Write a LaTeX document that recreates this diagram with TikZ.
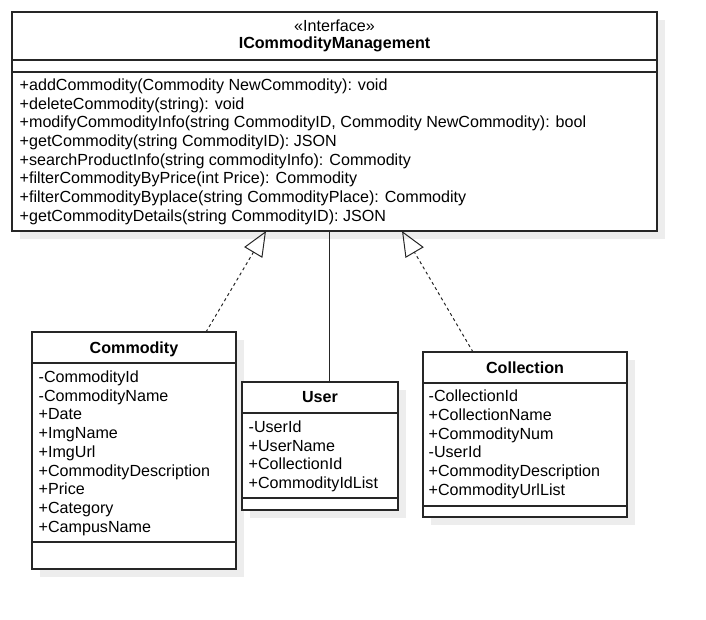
\documentclass[tikz,border=0pt]{standalone}
\usepackage{fontspec}
\setmainfont{Liberation Sans}
\usetikzlibrary{arrows.meta,shadows}
\begin{document}
\begin{tikzpicture}[x=1pt,y=-1pt,
  box/.style={draw=black!85, line width=1.1pt, fill=white, anchor=north west, inner sep=0pt, outer sep=0pt,
    drop shadow={shadow xshift=8pt, shadow yshift=-8pt, fill=black!7, opacity=1}},
  sep/.style={draw=black!85, line width=1.1pt},
  txt/.style={anchor=base west, inner sep=0pt, font=\fontsize{16.1}{18.8}\selectfont},
  ctr/.style={anchor=base, inner sep=0pt, font=\fontsize{16.1}{18.8}\selectfont},
  ttl/.style={anchor=base, inner sep=0pt, font=\fontsize{16.1}{18.8}\selectfont\bfseries},
  real/.style={draw=black!85, line width=1pt, dash pattern=on 3pt off 3pt,
    -{Triangle[open, length=25pt, width=21pt, line width=1pt]}}
]
\useasboundingbox (0,0) rectangle (706,620);

% Interface
\node[box, minimum width=645pt, minimum height=219pt] (iface) at (12,12) {};
\draw[sep, line width=1.6pt] (12,60) -- (657,60);
\draw[sep] (12,72) -- (657,72);
\node[ctr] (ifst) at (334.5,31.5) {«Interface»};
\node[ttl] (ifname) at (334.5,49) {ICommodityManagement};
\foreach \t [count=\i] in {
  {+addCommodity(Commodity NewCommodity): void},
  {+deleteCommodity(string): void},
  {+modifyCommodityInfo(string CommodityID, Commodity NewCommodity): bool},
  {+getCommodity(string CommodityID): JSON},
  {+searchProductInfo(string commodityInfo): Commodity},
  {+filterCommodityByPrice(int Price): Commodity},
  {+filterCommodityByplace(string CommodityPlace): Commodity},
  {+getCommodityDetails(string CommodityID): JSON}}
  \node[txt] (m\i) at (19.5,{90.5+18.7*(\i-1)}) {\t};

% Commodity
\node[box, minimum width=204pt, minimum height=237pt] (comm) at (32,332) {};
\draw[sep] (32,363) -- (236,363);
\draw[sep] (32,542) -- (236,542);
\node[ttl] (commname) at (134,353.3) {Commodity};
\foreach \t [count=\i] in {-CommodityId,-CommodityName,+Date,+ImgName,+ImgUrl,+CommodityDescription,+Price,+Category,+CampusName}
  \node[txt] (ca\i) at (38.5,{382.3+18.75*(\i-1)}) {\t};

% User
\node[box, minimum width=156pt, minimum height=128pt] (user) at (242,382) {};
\draw[sep] (242,413) -- (398,413);
\draw[sep] (242,498) -- (398,498);
\node[ttl] (username) at (320,402.3) {User};
\foreach \t [count=\i] in {-UserId,+UserName,+CollectionId,+CommodityIdList}
  \node[txt] (ua\i) at (248.5,{432.3+18.75*(\i-1)}) {\t};

% Collection
\node[box, minimum width=204pt, minimum height=165pt] (coll) at (423,352) {};
\draw[sep] (423,383) -- (627,383);
\draw[sep] (423,506) -- (627,506);
\node[ttl] (collname) at (525,373) {Collection};
\foreach \t [count=\i] in {-CollectionId,+CollectionName,+CommodityNum,-UserId,+CommodityDescription,+CommodityUrlList}
  \node[txt] (la\i) at (428.5,{401.7+18.75*(\i-1)}) {\t};

% Connectors
\coordinate (cmtop) at (206,332);
\coordinate (tipA) at (266,231);
\coordinate (cltop) at (473,352);
\coordinate (tipB) at (402,231);
\coordinate (ustop) at (329,382);
\coordinate (ifbot) at (329,231);
\draw[real] (cmtop) -- (tipA);
\draw[real] (cltop) -- (tipB);
\draw[sep, line width=1pt] (ustop) -- (ifbot);
\end{tikzpicture}
\end{document}
